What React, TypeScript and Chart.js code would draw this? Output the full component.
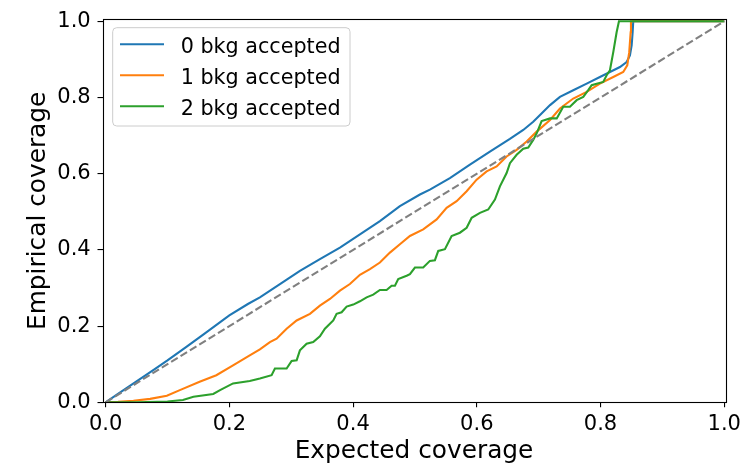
import React, { useEffect, useRef } from "react";
import { Chart, registerables } from "chart.js";

Chart.register(...registerables);

const X_TICKS = [0, 0.2, 0.4, 0.6, 0.8, 1.0];
const Y_TICKS = [0, 0.2, 0.4, 0.6, 0.8, 1.0];
const X_TITLE = "Expected coverage";
const Y_TITLE = "Empirical coverage";
const SERIES_LABELS = ["0 bkg accepted", "1 bkg accepted", "2 bkg accepted"];
const SERIES_COLORS = ["#1f77b4", "#ff7f0e", "#2ca02c"];
const DIAGONAL_COLOR = "#808080";

const BKG0: number[][] = [
  [0, 0], [0.02, 0.022], [0.05, 0.055], [0.08, 0.088], [0.1, 0.11], [0.13, 0.145],
  [0.16, 0.18], [0.2, 0.228], [0.23, 0.258], [0.2494, 0.2755], [0.2818, 0.3105],
  [0.3141, 0.3452], [0.3464, 0.3757], [0.3788, 0.406], [0.4111, 0.4409], [0.4434, 0.4756],
  [0.4757, 0.5147], [0.5081, 0.5453], [0.5242, 0.5583], [0.5565, 0.5886], [0.5889, 0.6235],
  [0.6212, 0.6582], [0.6535, 0.6914], [0.6751, 0.7148], [0.6912, 0.7365], [0.7022, 0.754],
  [0.7184, 0.78], [0.7344, 0.8017], [0.7559, 0.8192], [0.7776, 0.8364], [0.799, 0.8539],
  [0.8152, 0.8669], [0.8314, 0.88], [0.8422, 0.893], [0.8475, 0.9105], [0.8503, 0.9366],
  [0.8519, 0.9713], [0.8529, 1.0], [1.0, 1.0],
];

const BKG1: number[][] = [
  [0, 0], [0.02, 0.001], [0.045, 0.004], [0.072, 0.009], [0.099, 0.017], [0.12, 0.032],
  [0.152, 0.054], [0.179, 0.071], [0.206, 0.097], [0.233, 0.123], [0.2494, 0.139],
  [0.2656, 0.158], [0.2764, 0.167], [0.2926, 0.193], [0.3088, 0.2147], [0.3303, 0.2322],
  [0.3464, 0.2538], [0.3626, 0.2713], [0.3788, 0.293], [0.3949, 0.3105], [0.4111, 0.3347],
  [0.4273, 0.3496], [0.4434, 0.3668], [0.4596, 0.3929], [0.4757, 0.4148], [0.4919, 0.4365],
  [0.5134, 0.454], [0.5351, 0.48], [0.5512, 0.5103], [0.5674, 0.5278], [0.5836, 0.5539],
  [0.5997, 0.5844], [0.6159, 0.6061], [0.6321, 0.6191], [0.6482, 0.6452], [0.6644, 0.6627],
  [0.6806, 0.6843], [0.6968, 0.7104], [0.7184, 0.7409], [0.7344, 0.7712], [0.7559, 0.7973],
  [0.7776, 0.8148], [0.799, 0.8364], [0.8206, 0.8539], [0.8367, 0.8669], [0.8432, 0.8844],
  [0.8464, 0.9191], [0.8487, 0.9713], [0.8492, 1.0], [1.0, 1.0],
];

const BKG2: number[][] = [
  [0, 0], [0.05, 0.0], [0.1, 0.002], [0.125, 0.006], [0.142, 0.0146], [0.174, 0.0217],
  [0.185, 0.032], [0.206, 0.0496], [0.233, 0.056], [0.2494, 0.0626], [0.2683, 0.0712],
  [0.2737, 0.0887], [0.2926, 0.0887], [0.3007, 0.1085], [0.3088, 0.1104], [0.3141, 0.1364],
  [0.3249, 0.1539], [0.3356, 0.1581], [0.3464, 0.173], [0.3545, 0.193], [0.3626, 0.206],
  [0.368, 0.2147], [0.3734, 0.2322], [0.3815, 0.2364], [0.3896, 0.2512], [0.4003, 0.2565],
  [0.4111, 0.2651], [0.4219, 0.2755], [0.4326, 0.2825], [0.4434, 0.2948], [0.4542, 0.2948],
  [0.4623, 0.306], [0.4677, 0.306], [0.473, 0.3235], [0.4866, 0.3321], [0.4919, 0.3365],
  [0.5, 0.3538], [0.5134, 0.3538], [0.5242, 0.3712], [0.5323, 0.373], [0.5377, 0.3973],
  [0.5485, 0.4018], [0.5593, 0.4365], [0.5727, 0.4451], [0.5836, 0.4581], [0.5917, 0.4842],
  [0.6051, 0.4973], [0.6185, 0.5061], [0.6293, 0.5322], [0.6374, 0.5669], [0.6482, 0.6016],
  [0.6536, 0.6277], [0.6644, 0.6496], [0.6751, 0.6653], [0.6832, 0.6687], [0.6912, 0.6888],
  [0.6968, 0.706], [0.7048, 0.7383], [0.7184, 0.7451], [0.7292, 0.7451], [0.7397, 0.7757],
  [0.7506, 0.7757], [0.7614, 0.7931], [0.7721, 0.8017], [0.7801, 0.8192], [0.7857, 0.8322],
  [0.7938, 0.8364], [0.8044, 0.8409], [0.8099, 0.8583], [0.8152, 0.8714], [0.8206, 0.9191],
  [0.826, 0.9713], [0.8298, 1.0], [1.0, 1.0],
];

const DIAGONAL: number[][] = [[0, 0], [1, 1]];

const FONT = "'DejaVu Sans', 'Liberation Sans', sans-serif";

const toXY = (pairs: number[][]) => pairs.map(([x, y]) => ({ x, y }));

const mplPlugin = {
  id: "mplFrameLegend",
  afterDatasetsDraw(chart: any) {
    const ctx = chart.ctx as CanvasRenderingContext2D;
    const a = chart.chartArea;
    ctx.save();
    // spines
    ctx.strokeStyle = "#000";
    ctx.lineWidth = 1.1;
    ctx.strokeRect(Math.round(a.left) + 0.5, Math.round(a.top) + 0.5,
      Math.round(a.right) - Math.round(a.left), Math.round(a.bottom) - Math.round(a.top));
    // legend
    const items = chart.data.datasets.filter((d: any) => d.label);
    const bx = 112.7, by = 27.7, bw = 237.3, bh = 98.3;
    ctx.beginPath();
    (ctx as any).roundRect(bx, by, bw, bh, 4);
    ctx.fillStyle = "rgba(255,255,255,0.8)";
    ctx.fill();
    ctx.strokeStyle = "#cccccc";
    ctx.lineWidth = 1;
    ctx.stroke();
    items.forEach((d: any, i: number) => {
      const y = 44.3 + i * 31;
      ctx.beginPath();
      ctx.moveTo(120, y);
      ctx.lineTo(164, y);
      ctx.strokeStyle = d.borderColor;
      ctx.lineWidth = 2.1;
      ctx.stroke();
      ctx.fillStyle = "#000";
      ctx.font = `20.7px ${FONT}`;
      ctx.textBaseline = "alphabetic";
      ctx.textAlign = "left";
      ctx.fillText(d.label, 180.7, y + 8.4);
    });
    ctx.restore();
  },
};

export default function App() {
  const ref = useRef<HTMLCanvasElement | null>(null);
  useEffect(() => {
    if (!ref.current) return;
    const series = [BKG0, BKG1, BKG2];
    const datasets: any[] = series.map((s, i) => ({
      label: SERIES_LABELS[i],
      data: toXY(s),
      borderColor: SERIES_COLORS[i],
      backgroundColor: SERIES_COLORS[i],
      borderWidth: 2.1,
      pointRadius: 0,
      tension: 0,
      fill: false,
      order: 4 - i,
    }));
    datasets.push({
      label: "",
      data: toXY(DIAGONAL),
      borderColor: DIAGONAL_COLOR,
      borderWidth: 2.1,
      borderDash: [7.7, 3.3],
      pointRadius: 0,
      fill: false,
      order: 0,
    });
    const tickFont = { family: FONT, size: 21 };
    const titleFont = { family: FONT, size: 24.8 };
    const grid = {
      display: true,
      drawOnChartArea: false,
      drawTicks: true,
      tickLength: 5,
      color: "#000",
      lineWidth: 1.1,
    };
    const chart = new Chart(ref.current, {
      type: "line",
      data: { datasets },
      plugins: [mplPlugin],
      options: {
        responsive: false,
        maintainAspectRatio: false,
        animation: false,
        layout: { padding: { top: 17, right: 23.5, bottom: 0, left: 0 } },
        plugins: { legend: { display: false }, tooltip: { enabled: false } },
        scales: {
          x: {
            type: "linear",
            min: -0.005,
            max: 1.002,
            afterBuildTicks: (s: any) => { s.ticks = X_TICKS.map((value) => ({ value })); },
            afterFit: (s: any) => { s.height = 62.7; },
            ticks: {
              callback: (v: any) => Number(v).toFixed(1),
              font: tickFont, color: "#000", padding: 4.5, maxRotation: 0, autoSkip: false,
            },
            grid,
            border: { display: false },
            title: { display: true, text: X_TITLE, font: titleFont, color: "#000", padding: { top: 0, bottom: -1 } },
          },
          y: {
            type: "linear",
            min: 0,
            max: 1.005,
            afterBuildTicks: (s: any) => { s.ticks = Y_TICKS.map((value) => ({ value })); },
            afterFit: (s: any) => { s.width = 102.5; },
            ticks: {
              callback: (v: any) => Number(v).toFixed(1),
              font: tickFont, color: "#000", padding: 6.8, autoSkip: false,
            },
            grid,
            border: { display: false },
            title: { display: true, text: Y_TITLE, font: titleFont, color: "#000", padding: { top: 23.6, bottom: 0 } },
          },
        },
      } as any,
    });
    return () => chart.destroy();
  }, []);
  return (
    <div style={{ position: "fixed", left: 0, top: 0, width: 749, height: 465, background: "#fff" }}>
      <canvas ref={ref} width={749} height={465} style={{ display: "block" }} />
    </div>
  );
}
